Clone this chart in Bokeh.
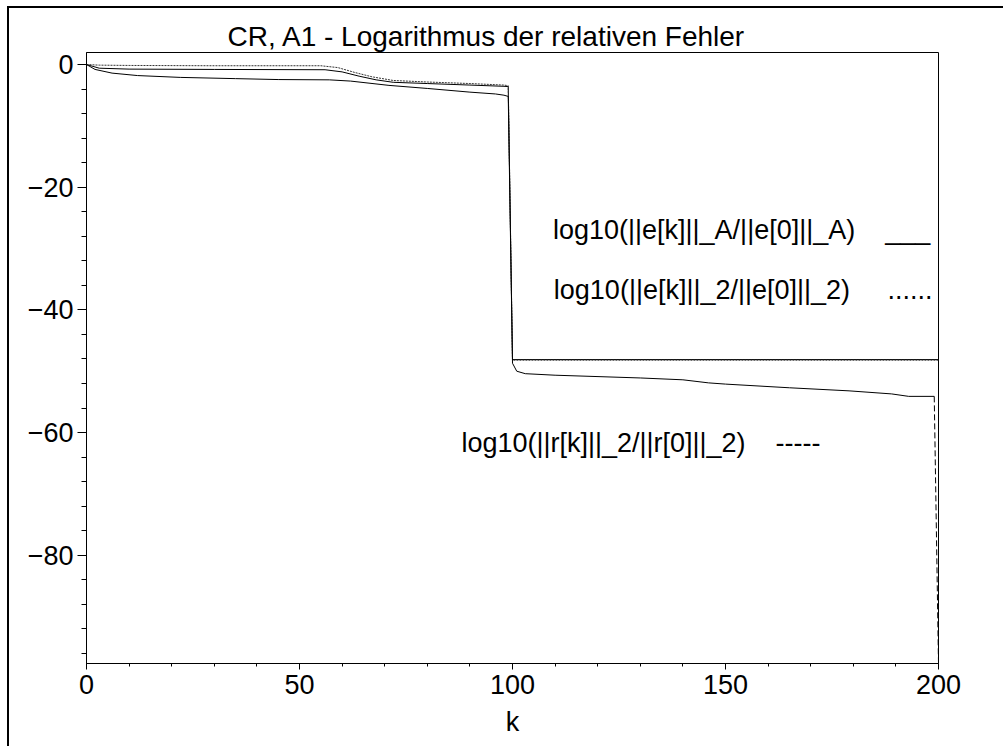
from bokeh.plotting import figure
from bokeh.models import Label, FixedTicker, Range1d
from bokeh.embed import file_html
from bokeh.resources import INLINE

# Iteration index k and log10 of the relative errors / residuals
k_ea = [0, 3, 10, 30, 56, 60, 64, 68, 72, 80, 90, 98, 99, 100, 200]
err_a = [0, -0.6, -0.75, -0.8, -0.85, -1.2, -1.9, -2.5, -2.9, -3.1, -3.35, -3.55, -3.6, -48.1, -48.1]

k_e2 = [0, 3, 10, 30, 55, 59, 63, 67, 72, 80, 90, 98, 99, 100, 200]
err_2 = [0, -0.1, -0.15, -0.2, -0.2, -0.5, -1.3, -2.0, -2.6, -2.85, -3.1, -3.35, -3.45, -48.2, -48.2]

k_r = [0, 2, 6, 12, 22, 35, 45, 57, 62, 71, 80, 90, 96, 98, 99, 100, 101, 103, 110,
       130, 140, 146, 150, 165, 179, 189, 193, 199, 200]
res_2 = [0, -0.8, -1.4, -1.8, -2.1, -2.3, -2.45, -2.5, -2.7, -3.4, -3.9, -4.5, -4.8, -5.0, -5.2,
         -48.7, -50.0, -50.4, -50.65, -51.1, -51.4, -51.9, -52.1, -52.7, -53.2, -53.7, -54.1,
         -54.1, -97.6]

x_ticks = [0, 50, 100, 150, 200]
y_ticks = [0, -20, -40, -60, -80]
y_tick_labels = ["0", "\u221220", "\u221240", "\u221260", "\u221280"]

title_text = "CR, A1 - Logarithmus der relativen Fehler"
NB = "\u00a0"  # keeps the gap before the line-style marks from collapsing
label_texts = [
    "log10(||e[k]||_A/||e[0]||_A)" + NB * 4 + "___",
    "log10(||e[k]||_2/||e[0]||_2)" + NB * 5 + "......",
    "log10(||r[k]||_2/||r[0]||_2)" + NB * 4 + "-----",
]
# anchor (k, value) of each curve caption
label_anchor = [(109.5, -26.9), (109.7, -36.8), (88.0, -61.7)]

FONT = "Liberation Sans"
SIZE = "27px"

p = figure(
    frame_width=852, frame_height=611,
    min_border_left=77, min_border_right=65, min_border_top=44, min_border_bottom=83,
    x_range=Range1d(0, 200), y_range=Range1d(-97.65, 1.96),
    output_backend="svg", toolbar_location=None,
    background_fill_color="white", border_fill_color="white",
)
p.styles = {
    "margin-left": "7px", "margin-top": "6px",
    "border-left": "2px solid black", "border-top": "2px solid black",
}

p.xgrid.visible = False
p.ygrid.visible = False
p.outline_line_color = "black"
p.outline_line_width = 1

p.title.text = title_text
p.title.align = "left"
p.title.offset = 141
p.title.standoff = 2
p.title.text_font = FONT
p.title.text_font_size = "28px"
p.title.text_font_style = "normal"
p.title.text_color = "black"

for ax in (p.xaxis[0], p.yaxis[0]):
    ax.axis_line_color = "black"
    ax.major_tick_line_color = "black"
    ax.minor_tick_line_color = "black"
    ax.major_tick_in = 0
    ax.minor_tick_in = 0
    ax.major_label_text_font = FONT
    ax.major_label_text_font_size = SIZE
    ax.major_label_text_color = "black"

p.xaxis.ticker = FixedTicker(ticks=x_ticks, minor_ticks=list(range(0, 201, 10)))
p.xaxis.major_tick_out = 6
p.xaxis.minor_tick_out = 3
p.xaxis.major_label_standoff = 5
p.xaxis.axis_label = "k"
p.xaxis.axis_label_text_font = FONT
p.xaxis.axis_label_text_font_size = SIZE
p.xaxis.axis_label_text_font_style = "normal"
p.xaxis.axis_label_text_color = "black"
p.xaxis.axis_label_standoff = 10

p.yaxis.ticker = FixedTicker(ticks=y_ticks, minor_ticks=list(range(-96, 1, 4)))
p.yaxis.major_label_overrides = dict(zip(y_ticks, y_tick_labels))
p.yaxis.major_tick_out = 9
p.yaxis.minor_tick_out = 5
p.yaxis.major_label_standoff = 4

# curves
p.line(k_ea, err_a, line_color="black", line_width=1)
p.line(k_e2, err_2, line_color="#333333", line_width=1, line_dash="2 1")
p.line(k_r[:-1], res_2[:-1], line_color="black", line_width=1)
p.line(k_r[-2:], res_2[-2:], line_color="black", line_width=1, line_dash="6 3")

for txt, (lx, ly) in zip(label_texts, label_anchor):
    p.add_layout(Label(
        x=lx, y=ly, text=txt, text_font=FONT, text_font_size=SIZE,
        text_color="black", text_baseline="alphabetic", text_align="left",
    ))

open("out.html", "w").write(file_html(p, INLINE))
